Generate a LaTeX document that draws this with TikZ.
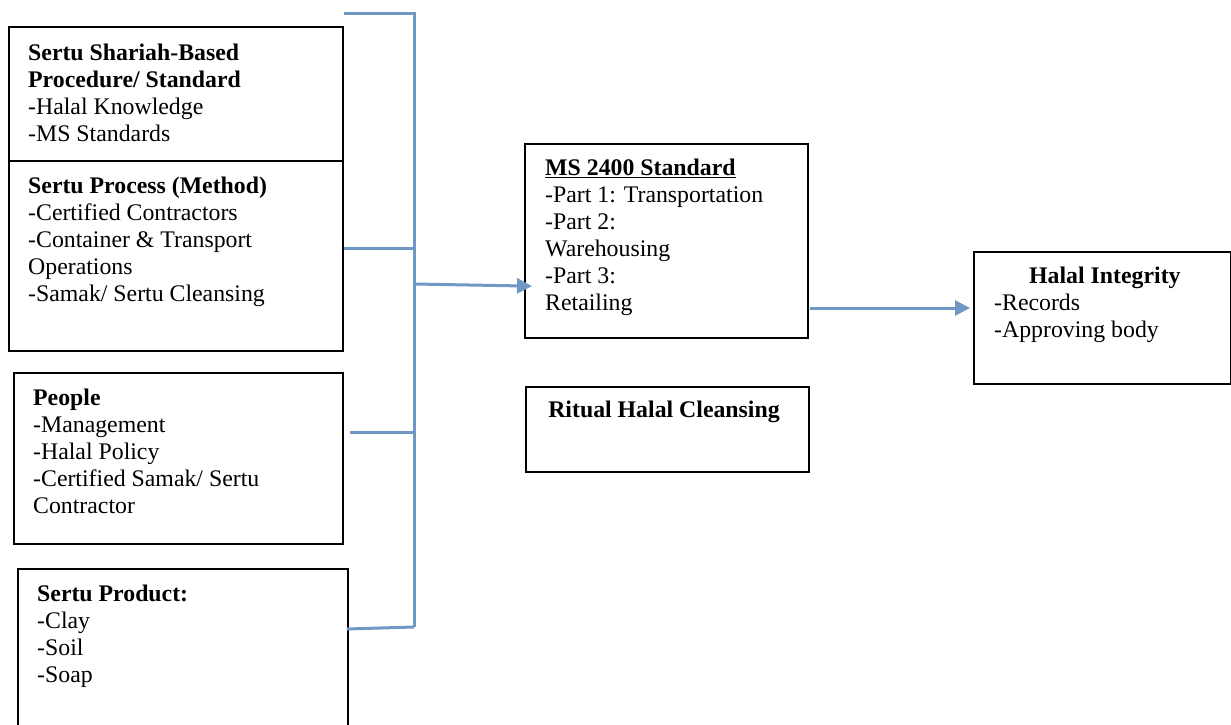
\documentclass[tikz,border=0pt]{standalone}
\usepackage{fontspec}
\setmainfont{Liberation Serif}
\usetikzlibrary{arrows.meta}
\definecolor{linkblue}{RGB}{112,152,196}
\tikzset{
  boxnode/.style={draw=black, line width=1.6pt, fill=white, rectangle, inner sep=0pt, anchor=north west},
  txt/.style={inner sep=0pt, anchor=north west, align=left, font=\fontsize{23.8}{27}\selectfont},
  ctxt/.style={inner sep=0pt, anchor=north, align=center, font=\fontsize{23.8}{27}\selectfont},
  link/.style={draw=linkblue, line width=3pt},
  arrowlink/.style={link, -{Triangle[length=15pt,width=15pt]}}
}
\begin{document}
\begin{tikzpicture}[x=1pt,y=-1pt]
\useasboundingbox (0,0) rectangle (1231,725);
% boxes
\node[boxnode, minimum width=334pt, minimum height=157pt] (b1) at (8,26) {};
\node[boxnode, minimum width=334pt, minimum height=190pt] (b2) at (8,160) {};
\node[boxnode, minimum width=329pt, minimum height=171pt] (b3) at (13,372) {};
\node[boxnode, minimum width=330pt, minimum height=175pt] (b4) at (17,568) {};
\node[boxnode, minimum width=283pt, minimum height=194pt] (b5) at (524,143) {};
\node[boxnode, minimum width=283pt, minimum height=85pt] (b6) at (525,386) {};
\node[boxnode, minimum width=257pt, minimum height=132pt] (b7) at (973,251) {};
% texts
\node[txt] (t1) at (28,{60-18.9}) {\strut\textbf{Sertu Shariah-Based}\\\textbf{Procedure/ Standard}\\-Halal Knowledge\\-MS Standards};
\node[txt] (t2) at (28,{193-18.9}) {\strut\textbf{Sertu Process (Method)}\\-Certified Contractors\\-Container \& Transport\\Operations\\-Samak/ Sertu Cleansing};
\node[txt] (t3) at (33,{405-18.9}) {\strut\textbf{People}\\-Management\\-Halal Policy\\-Certified Samak/ Sertu\\Contractor};
\node[txt] (t4) at (37,{601-18.9}) {\strut\textbf{Sertu Product:}\\-Clay\\-Soil\\-Soap};
\node[txt] (t5) at (545,{175-18.9}) {\strut\underline{\textbf{MS 2400 Standard}}\\-Part 1: Transportation\\-Part 2:\\Warehousing\\-Part 3:\\Retailing};
\node[ctxt] (t6) at (664,{417-18.9}) {\strut\textbf{Ritual Halal Cleansing}};
\node[txt] (t7a) at (1029,{283-18.9}) {\strut\textbf{Halal Integrity}};
\node[txt] (t7b) at (994,{310-18.9}) {\strut-Records\\-Approving body};
% connector joints
\coordinate (top0) at (344,14);
\coordinate (top1) at (414,14);
\coordinate (j2) at (414,248);
\coordinate (jm) at (414,284);
\coordinate (j3) at (414,432);
\coordinate (j4) at (414,627);
\coordinate (p4) at (347,629);
\coordinate (inms) at (524,286);
\coordinate (outms) at (807,308);
% connectors
\draw[link] (top0) -- (top1) -- (j4);
\draw[link] (b2.east |- j2) -- (j2);
\draw[link, shorten <=6pt] (b3.east |- j3) -- (j3);
\draw[link] (p4) -- (j4);
\draw[arrowlink, shorten >=-8pt] (jm) -- (inms);
\draw[arrowlink, shorten <=3pt, shorten >=3pt] (outms) -- (b7.west |- outms);
\end{tikzpicture}
\end{document}
